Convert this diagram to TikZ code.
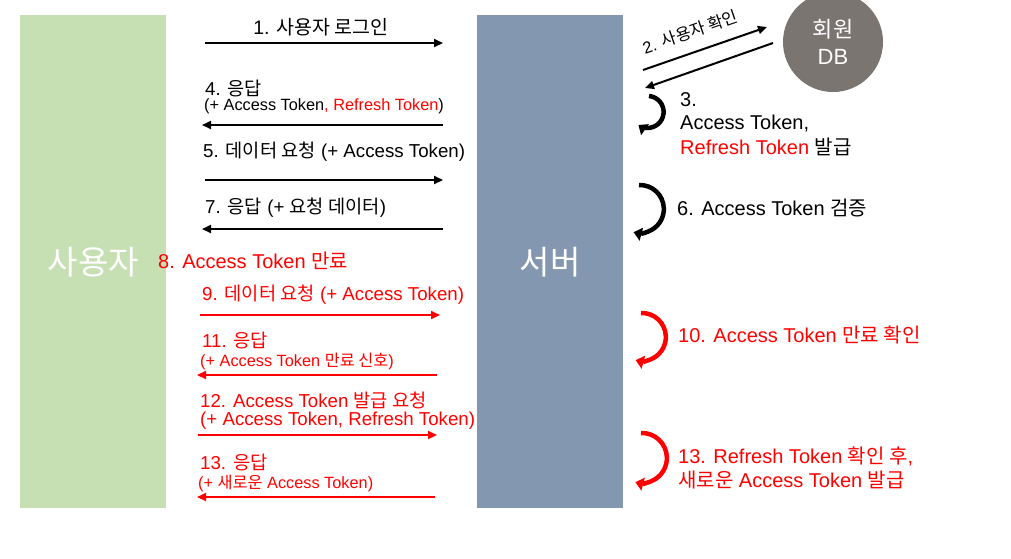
\documentclass[tikz,border=0pt]{standalone}
\usepackage{fontspec}
\setmainfont{Liberation Sans}
\newfontfamily\krfont{Noto Sans CJK KR}
\newcommand\ko[1]{{\krfont #1}}
\usetikzlibrary{arrows.meta}
\definecolor{usergreen}{HTML}{C6E0B4}
\definecolor{serverblue}{HTML}{8497B0}
\definecolor{dbgray}{HTML}{7B7571}
\definecolor{alertred}{HTML}{FF0000}
\tikzset{
  msg/.style={line width=2pt,-{Triangle[length=9pt,width=8pt]}},
  loopback/.style={line width=4.5pt,-{Triangle[length=8pt,width=13pt]}},
  lbl/.style={font=\fontsize{18.7}{21}\selectfont,inner sep=0pt,anchor=west},
  sublbl/.style={font=\fontsize{16.3}{18}\selectfont,inner sep=0pt,anchor=west},
  sidelbl/.style={font=\fontsize{20}{22}\selectfont,inner sep=0pt,anchor=west},
  actor/.style={minimum width=146pt,minimum height=493pt,anchor=north west,inner sep=0pt,
    text=white,font=\krfont\fontsize{33}{36}\selectfont},
}

\begin{document}
\begin{tikzpicture}[x=1pt,y=-1pt]
				\useasboundingbox (0,0) rectangle (1011,558);
				\clip (0,0) rectangle (1011,558); % the DB circle runs over the top edge
				% the two sides
				\node[actor,fill=usergreen] (user) at (20,15) {사용자};
				\node[actor,fill=serverblue] (server) at (477,15) {서버};
				\node[circle,fill=dbgray,minimum size=100pt,inner sep=0pt,text=white,align=center,
				  font=\fontsize{22}{27}\selectfont] (db) at (833,42) {\ko{회원}\\DB};
				% login and token issue
				\node[font=\fontsize{19.5}{21}\selectfont,inner sep=0pt] (l1) at (321,27) {1. \ko{사용자 로그인}};
				\coordinate (a1s) at (205,43); \coordinate (a1e) at (443,43);
				\draw[msg] (a1s) -- (a1e);
				\coordinate (a2s) at (643,70); \coordinate (a2e) at (767,27);
				\draw[msg] (a2s) -- (a2e);
				\node[font=\fontsize{16.5}{19}\selectfont,inner sep=0pt,rotate=19] (l2) at (690,32) {2. \ko{사용자 확인}};
				\coordinate (a3s) at (773,43); \coordinate (a3e) at (645,88);
				\draw[msg] (a3s) -- (a3e);
				\coordinate (c3) at (649,96);
				\draw[loopback] (c3) arc[start angle=-85,end angle=125,radius=16];
				\node[sidelbl] (l3a) at (680,100) {3.};
				\node[sidelbl] (l3b) at (680,124) {Access Token,};
				\node[sidelbl] (l3c) at (680,147) {\textcolor{alertred}{Refresh Token} \ko{발급}};
				\node[lbl] (l4a) at (205,88) {4. \ko{응답}};
				\node[sublbl] (l4b) at (204,106) {(+ Access Token\textcolor{alertred}{, Refresh Token})};
				\coordinate (a4s) at (443,125); \coordinate (a4e) at (202,125);
				\draw[msg] (a4s) -- (a4e);
				% normal request
				\node[lbl] (l5) at (203,152) {5. \ko{데이터 요청} (+ Access Token)};
				\coordinate (a5s) at (205,180); \coordinate (a5e) at (443,180);
				\draw[msg] (a5s) -- (a5e);
				\coordinate (c6) at (639,185);
				\draw[loopback] (c6) arc[start angle=-92,end angle=105,radius=24];
				\node[sidelbl] (l6) at (677,208) {6. Access Token \ko{검증}};
				\node[lbl] (l7) at (205,208) {7. \ko{응답} (+ \ko{요청 데이터})};
				\coordinate (a7s) at (443,229); \coordinate (a7e) at (202,229);
				\draw[msg] (a7s) -- (a7e);
				% expired token
				\begin{scope}[alertred,every node/.append style={text=alertred}]
				\node[sidelbl] (l8) at (158,261) {8. Access Token \ko{만료}};
				\node[lbl] (l9) at (202,295) {9. \ko{데이터 요청} (+ Access Token)};
				\coordinate (a9s) at (200,315); \coordinate (a9e) at (440,315);
				\draw[msg] (a9s) -- (a9e);
				\coordinate (c10) at (641,313);
				\draw[loopback] (c10) arc[start angle=-92,end angle=105,radius=24];
				\node[sidelbl] (l10) at (678,335) {10. Access Token \ko{만료 확인}};
				\node[lbl] (l11a) at (202,340) {11. \ko{응답}};
				\node[sublbl] (l11b) at (200,361) {(+ Access Token \ko{만료 신호})};
				\coordinate (a11s) at (437,375); \coordinate (a11e) at (197,375);
				\draw[msg] (a11s) -- (a11e);
				\node[lbl] (l12a) at (200,400) {12. Access Token \ko{발급 요청}};
				\node[lbl] (l12b) at (200,421) {(+ Access Token, Refresh Token)};
				\coordinate (a12s) at (198,435); \coordinate (a12e) at (437,435);
				\draw[msg] (a12s) -- (a12e);
				\coordinate (c13) at (641,433);
				\draw[loopback] (c13) arc[start angle=-92,end angle=105,radius=25];
				\node[sidelbl] (l13r1) at (678,456) {13. Refresh Token \ko{확인 후},};
				\node[sidelbl] (l13r2) at (678,480) {\ko{새로운} Access Token \ko{발급}};
				\node[lbl] (l13a) at (200,462) {13. \ko{응답}};
				\node[sublbl] (l13b) at (198,483) {(+ \ko{새로운} Access Token)};
				\coordinate (a13s) at (435,497); \coordinate (a13e) at (197,497);
				\draw[msg] (a13s) -- (a13e);
				\end{scope}
\end{tikzpicture}
\end{document}
